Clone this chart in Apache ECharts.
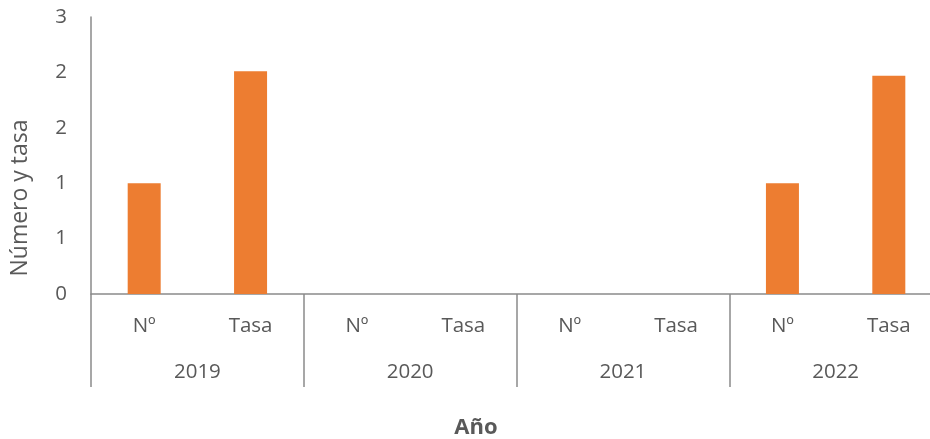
<!DOCTYPE html>
<html>
<head>
<meta charset="utf-8">
<script src="https://cdn.jsdelivr.net/npm/echarts@6/dist/echarts.min.js"></script>
<style>
  html, body { margin: 0; padding: 0; background: #fff; }
  #main { width: 930px; height: 439px; }
</style>
</head>
<body>
<div id="main"></div>
<script>
// datos del gráfico
var years = ['2019', '2020', '2021', '2022'];
var subCats = ['Nº', 'Tasa', 'Nº', 'Tasa', 'Nº', 'Tasa', 'Nº', 'Tasa'];
var values = [1, 2.01, 0, 0, 0, 0, 1, 1.97];
var yTickLabels = ['0', '1', '1', '2', '2', '3'];

var myChart = echarts.init(document.getElementById('main'));
var gris = '#8a8a8a';
var texto = '#595959';
var fuente = '"Open Sans"';

var option = {
    animation: false,
    textStyle: { fontFamily: fuente },
    grid: { left: 91, top: 17, width: 851, height: 277, outerBoundsMode: 'none' },
    xAxis: [{
        type: 'category',
        data: subCats,
        position: 'bottom',
        axisLine: { show: true, lineStyle: { color: gris, width: 1.5 } },
        axisTick: { show: false },
        axisLabel: { margin: 22, fontSize: 20.5, color: texto, fontFamily: fuente, interval: 0 }
    }, {
        type: 'category',
        data: years,
        position: 'bottom',
        axisLine: { show: false },
        axisTick: { show: true, length: 93, lineStyle: { color: gris, width: 1.5 } },
        axisLabel: { margin: 68, fontSize: 20.5, color: texto, fontFamily: fuente, interval: 0 }
    }],
    yAxis: {
        type: 'value',
        min: 0,
        max: 2.5,
        interval: 0.5,
        axisLine: { show: true, lineStyle: { color: gris, width: 1.5 } },
        axisTick: { show: false },
        splitLine: { show: false },
        axisLabel: {
            margin: 24, fontSize: 20.5, color: texto, fontFamily: fuente,
            formatter: function (v, i) { return yTickLabels[i]; }
        }
    },
    graphic: [{
        type: 'text',
        x: 20, y: 198,
        rotation: Math.PI / 2,
        style: {
            text: 'Número y tasa',
            fontSize: 23, fontFamily: fuente, fill: texto,
            textAlign: 'center', textVerticalAlign: 'middle'
        }
    }, {
        type: 'text',
        x: 476, y: 428,
        style: {
            text: 'Año',
            fontSize: 22, fontWeight: 'bold', fontFamily: fuente, fill: texto,
            textAlign: 'center', textVerticalAlign: 'middle'
        }
    }],
    series: [{
        type: 'bar',
        xAxisIndex: 0,
        data: values,
        barWidth: 33,
        itemStyle: { color: '#ED7D31' }
    }]
};
myChart.setOption(option);
</script>
</body>
</html>
